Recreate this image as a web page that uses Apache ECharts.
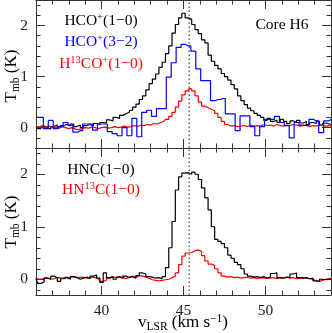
<!DOCTYPE html>
<html><head><meta charset="utf-8">
<script src="https://cdn.jsdelivr.net/npm/echarts@6/dist/echarts.min.js"></script>
<style>html,body{margin:0;padding:0;background:#fff}#c{width:332px;height:333px}</style>
</head><body><div id="c"></div>
<script>
// Channel grids (km/s)
const fineStart = 36.0, fineStep = 0.2;   // HCO+(1-0), H13CO+(1-0), HNC, HN13C
const blueStart = 36.0, blueStep = 0.3;   // HCO+(3-2)

// Top panel
const hcoP10 = [0.02,-0.02,0.03,0.00,-0.03,0.02,0.05,0.00,0.04,0.06,
  0.03,0.07,0.02,0.05,0.00,0.04,0.06,0.03,0.08,0.06,
  0.10,0.09,0.15,0.13,0.20,0.18,0.24,0.27,0.30,0.34,
  0.40,0.46,0.55,0.62,0.74,0.86,0.95,1.05,1.18,1.28,
  1.45,1.60,1.85,2.02,2.15,2.24,2.15,2.12,2.02,1.92,
  1.84,1.72,1.66,1.42,1.30,1.22,1.15,1.06,1.00,0.93,
  0.84,0.76,0.62,0.53,0.45,0.38,0.33,0.28,0.24,0.20,
  0.14,0.18,0.12,0.15,0.10,0.16,0.12,0.08,0.13,0.10,
  0.14,0.09,0.12,0.06,0.10,0.08,0.12,0.05,0.09,0.07,
  0.06];
const hcoP32 = [0.20,0.20,-0.02,0.14,-0.02,0.02,0.10,0.05,-0.09,-0.06,
  0.07,0.07,-0.05,0.07,0.07,-0.08,-0.12,-0.16,0.00,-0.16,
  0.18,-0.18,0.30,0.34,0.22,0.37,0.37,0.99,1.27,1.57,
  1.63,1.60,1.50,1.15,0.92,0.92,0.53,0.55,0.57,0.27,
  0.27,-0.06,0.23,0.23,0.02,-0.16,0.02,0.16,0.16,0.22,
  0.10,0.04,-0.20,0.10,0.05,0.04,0.16,0.13,-0.10,0.13,
  0.16];
const h13coP10 = [0.01,0.02,0.00,0.01,0.03,0.00,0.01,-0.01,0.02,0.00,
  -0.02,0.00,-0.03,-0.04,-0.02,0.00,-0.01,0.01,0.00,-0.02,
  0.00,0.01,-0.01,0.00,0.02,0.00,0.01,0.03,0.01,0.02,
  0.04,0.02,0.05,0.04,0.06,0.05,0.08,0.07,0.10,0.12,
  0.16,0.22,0.30,0.40,0.52,0.64,0.72,0.76,0.72,0.62,
  0.50,0.42,0.39,0.36,0.33,0.28,0.20,0.12,0.06,0.03,
  0.04,0.02,0.03,0.04,0.02,0.05,0.03,0.04,0.03,0.06,
  0.04,0.05,0.03,0.06,0.04,0.03,0.05,0.04,0.06,0.05,
  0.03,0.04,0.05,0.02,0.04,0.03,0.05,0.04,0.03,0.04,
  0.03];

// Bottom panel
const hnc10 = [0.02,-0.08,-0.05,0.02,0.00,0.06,0.03,-0.04,0.01,0.03,
  0.00,0.05,0.03,0.00,0.02,0.04,0.01,0.06,0.08,0.02,
  -0.06,0.12,0.03,0.05,0.00,0.04,0.02,0.06,0.03,0.05,
  0.02,0.07,0.12,0.10,0.05,0.04,0.02,0.03,0.01,0.05,
  0.22,0.60,1.10,1.70,1.95,2.02,2.03,2.00,2.04,2.00,
  1.90,1.74,1.55,1.32,1.00,0.76,0.72,0.68,0.60,0.46,
  0.40,0.32,0.28,0.20,0.10,0.06,0.04,0.05,0.03,0.05,
  0.02,0.04,0.11,0.12,0.03,0.02,0.04,0.03,0.10,0.12,
  0.03,0.02,0.03,0.01,0.02,-0.03,-0.04,0.00,-0.01,0.00,
  -0.01];
const hn13c10 = [0.02,0.00,0.01,0.03,0.02,0.00,0.02,0.03,0.02,0.04,
  0.03,0.05,0.04,0.03,0.04,0.03,0.02,0.04,0.03,0.01,
  -0.04,-0.02,0.02,0.04,0.03,0.05,0.03,0.01,0.04,0.06,
  0.04,0.07,0.06,0.04,0.02,-0.01,-0.02,-0.03,-0.02,-0.01,
  0.00,0.03,0.06,0.12,0.28,0.44,0.50,0.51,0.54,0.56,
  0.53,0.45,0.35,0.29,0.26,0.20,0.12,0.06,0.04,0.05,
  0.03,0.04,0.02,0.03,0.04,0.02,0.03,0.01,0.03,0.02,
  0.03,0.02,0.03,0.01,0.03,0.02,0.04,0.02,0.03,0.01,
  0.02,0.03,0.02,0.01,0.00,-0.03,-0.04,-0.02,0.00,0.02,
  0.01];

// Reference velocity (dotted line)
const vRef = 45.35;

// Axis ranges and ticks
const xRange = [36, 54];
const yRangeTop = [-0.4, 2.5];
const yRangeBottom = [-0.3, 2.5];
const xMinorTicks = [37,38,39,40,41,42,43,44,45,46,47,48,49,50,51,52,53];
const xMajorTicks = [40,45,50];
const xLabels = [40,45,50];
const yMinorTicks = [-0.2,0,0.2,0.4,0.6,0.8,1,1.2,1.4,1.6,1.8,2,2.2,2.4];
const yMajorTicks = [0,1,2];
const yLabels = [0,1,2];

function toPairs(arr, start, step) {
  return arr.map((t, i) => [Math.round((start + i * step) * 100) / 100, t]);
}

const FONT = 'Liberation Serif';
const AX = '#333';

function mkX(g, pos, ticks, len, line, labels) {
  return {
    type: 'value', gridIndex: g, position: pos, min: xRange[0], max: xRange[1],
    axisLine: { show: line, onZero: false, lineStyle: { color: AX, width: 1 } },
    axisTick: { show: true, inside: true, length: len, customValues: ticks, lineStyle: { color: AX, width: 1 } },
    axisLabel: labels ? { show: true, customValues: labels, margin: 8, color: '#222', fontFamily: FONT, fontSize: 15.5 } : { show: false },
    splitLine: { show: false }
  };
}
function mkY(g, pos, range, ticks, len, line, labels) {
  return {
    type: 'value', gridIndex: g, position: pos, min: range[0], max: range[1],
    axisLine: { show: line, onZero: false, lineStyle: { color: AX, width: 1 } },
    axisTick: { show: true, inside: true, length: len, customValues: ticks, lineStyle: { color: AX, width: 1 } },
    axisLabel: labels ? { show: true, customValues: labels, margin: 8, color: '#222', fontFamily: FONT, fontSize: 15.5 } : { show: false },
    splitLine: { show: false }
  };
}

const xAxes = [], yAxes = [];
[[0, yRangeTop, null], [1, yRangeBottom, xLabels]].forEach(([g, yr, xl]) => {
  xAxes.push(mkX(g, 'bottom', xMinorTicks, 4.5, true, xl));
  xAxes.push(mkX(g, 'bottom', xMajorTicks, 9, false, null));
  xAxes.push(mkX(g, 'top', xMinorTicks, 4.5, true, null));
  xAxes.push(mkX(g, 'top', xMajorTicks, 9, false, null));
  yAxes.push(mkY(g, 'left', yr, yMinorTicks, 4.5, true, yLabels));
  yAxes.push(mkY(g, 'left', yr, yMajorTicks, 9, false, null));
  yAxes.push(mkY(g, 'right', yr, yMinorTicks, 4.5, true, null));
  yAxes.push(mkY(g, 'right', yr, yMajorTicks, 9, false, null));
});

function spec(g, name, data, color) {
  return { type: 'line', name, xAxisIndex: g * 4, yAxisIndex: g * 4, data, step: 'middle',
    showSymbol: false, symbol: 'none', silent: true, animation: false,
    lineStyle: { color, width: 1.2 }, z: 3 };
}
function refLine(g, yr) {
  return { type: 'line', xAxisIndex: g * 4, yAxisIndex: g * 4, data: [[vRef, yr[0]], [vRef, yr[1]]],
    showSymbol: false, symbol: 'none', silent: true, animation: false,
    lineStyle: { color: '#666', width: 1.5, type: [1.5, 2.5] }, z: 2 };
}

const series = [
  refLine(0, yRangeTop), refLine(1, yRangeBottom),
  spec(0, 'HCO+(1-0)', toPairs(hcoP10, fineStart, fineStep), '#000000'),
  spec(0, 'H13CO+(1-0)', toPairs(h13coP10, fineStart, fineStep), '#ff0000'),
  spec(0, 'HCO+(3-2)', toPairs(hcoP32, blueStart, blueStep), '#0000ff'),
  spec(1, 'HN13C(1-0)', toPairs(hn13c10, fineStart, fineStep), '#ff0000'),
  spec(1, 'HNC(1-0)', toPairs(hnc10, fineStart, fineStep), '#000000')
];

const rich = {
  a: { fontFamily: FONT, fontSize: 15.5, lineHeight: 18, verticalAlign: 'middle' },
  s: { fontFamily: FONT, fontSize: 10.5, lineHeight: 10, verticalAlign: 'top' },
  b: { fontFamily: FONT, fontSize: 11, lineHeight: 10, verticalAlign: 'bottom' },
  A: { fontFamily: FONT, fontSize: 17, lineHeight: 20, verticalAlign: 'middle' },
  B: { fontFamily: FONT, fontSize: 11.5, lineHeight: 10, verticalAlign: 'bottom' },
  S: { fontFamily: FONT, fontSize: 11.5, lineHeight: 10, verticalAlign: 'top' }
};
function label(x, y, text, fill, extra) {
  return Object.assign({ type: 'text', x, y, z: 10, silent: true,
    style: { text, fill, align: 'center', verticalAlign: 'middle', rich } }, extra || {});
}

const graphic = [
  label(101, 21, '{a|HCO}{s|+}{a|(1\u22120)}', '#000000'),
  label(101, 42, '{a|HCO}{s|+}{a|(3\u22122)}', '#0000ff'),
  label(101, 64, '{a|H}{s|13}{a|CO}{s|+}{a|(1\u22120)}', '#ff0000'),
  label(282, 25, '{a|Core H6}', '#000000'),
  label(101, 170, '{a|HNC(1\u22120)}', '#000000'),
  label(101, 190, '{a|HN}{s|13}{a|C(1\u22120)}', '#ff0000'),
  label(12, 76, '{A|T}{B|mb}{A| (K)}', '#000000', { rotation: Math.PI / 2 }),
  label(12, 222, '{A|T}{B|mb}{A| (K)}', '#000000', { rotation: Math.PI / 2 }),
  label(183, 323, '{A|v}{B|LSR}{A| (km s}{S|\u22121}{A|)}', '#000000')
];

const chart = echarts.init(document.getElementById('c'), null, { renderer: 'canvas' });
chart.setOption({
  animation: false,
  backgroundColor: '#ffffff',
  grid: [
    { left: 36, top: 0, width: 295, height: 148 },
    { left: 36, top: 148, width: 295, height: 147 }
  ],
  xAxis: xAxes,
  yAxis: yAxes,
  series,
  graphic
});
</script></body></html>
